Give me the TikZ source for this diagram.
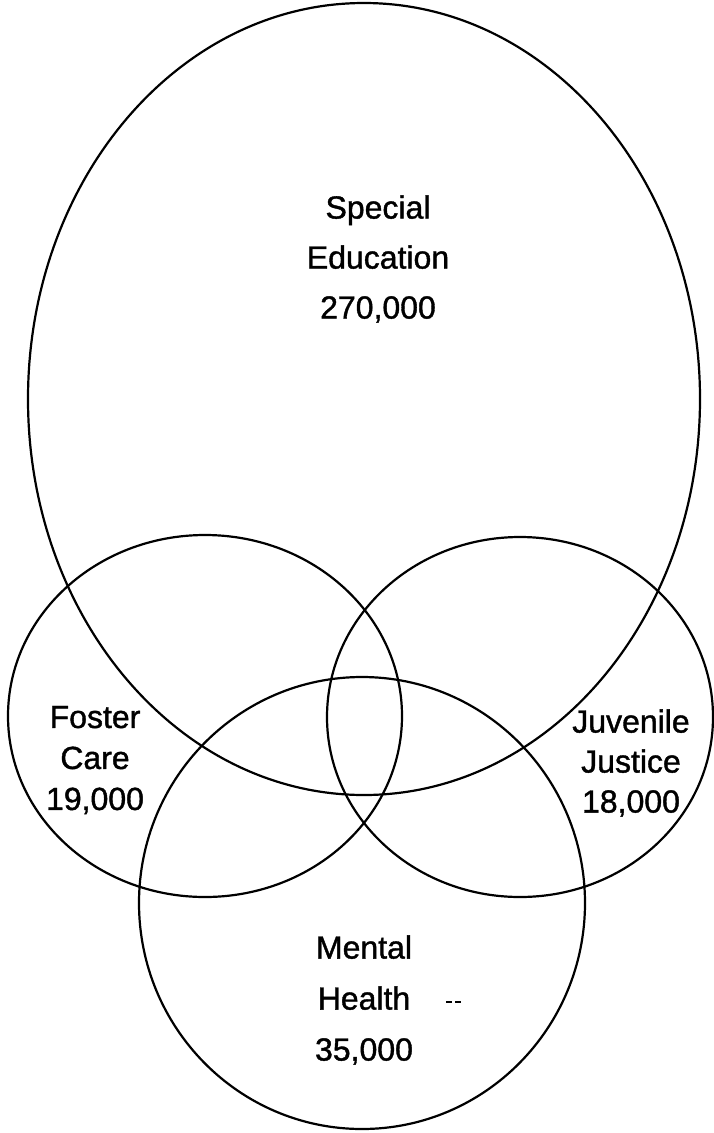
\documentclass[tikz,border=0pt]{standalone}
\usepackage{fontspec}
\setmainfont{Liberation Sans}[FakeBold=1.2]

\begin{document}
\begin{tikzpicture}[x=1pt, y=-1pt,
      venn/.style={line width=2.2pt},
      setlabel/.style={inner sep=0pt, align=center, font=\fontsize{32}{#1}\selectfont}]
   \useasboundingbox (0,0) rectangle (713,1133);
   % Sets (drawn as ellipses)
   \draw[venn] (364,399) ellipse [x radius=336, y radius=396];
   \draw[venn] (205,716) ellipse [x radius=197, y radius=181];
   \draw[venn] (520,717) ellipse [x radius=193, y radius=180];
   \draw[venn] (362,903) ellipse [x radius=223, y radius=226];
   % Set names and counts
   \node[setlabel=50] (sped) at (378,259) {Special\\Education\\270,000};
   \node[setlabel=41] (foster) at (95,760) {Foster\\Care\\19,000};
   \node[setlabel=40] (juvenile) at (631,763) {Juvenile\\Justice\\18,000};
   \node[setlabel=51] (mental) at (364,1000) {Mental\\Health\\35,000};
   % little dash next to Health
   \draw[line width=1.3pt, dash pattern=on 6pt off 3pt] (446,1002) -- (464,1002);
\end{tikzpicture}
\end{document}
